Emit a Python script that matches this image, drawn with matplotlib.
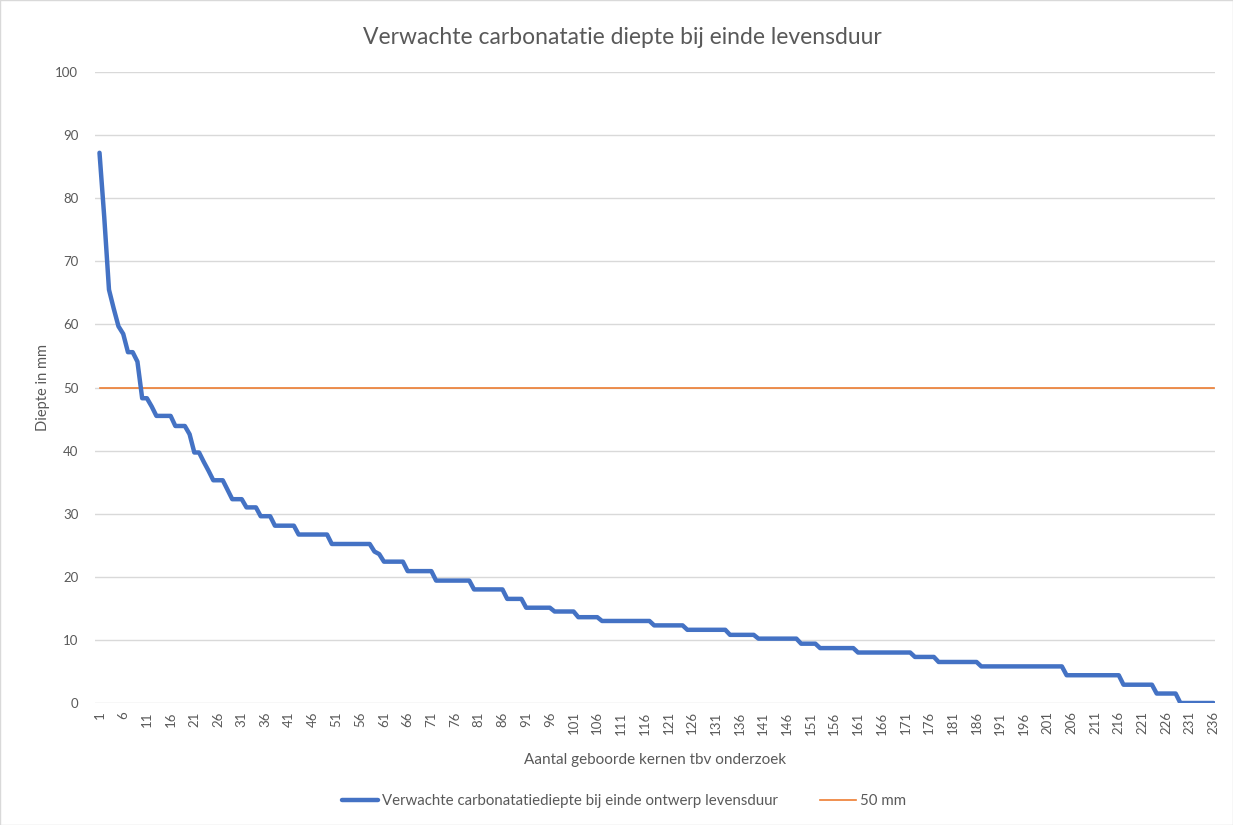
import numpy as np
import matplotlib
matplotlib.use("Agg")
import matplotlib.pyplot as plt
from matplotlib.patches import Rectangle

plt.rcParams['font.family'] = ['Lato', 'DejaVu Sans']

# Depth values (mm), as (level, number of consecutive cores)
depth_levels = [87.2, 77.0, 65.5, 62.5, 59.7, 58.5, 55.6, 54.1, 48.3, 47.0,
                45.5, 43.9, 42.6, 39.7, 38.2, 36.8, 35.3, 33.8, 32.3, 31.0,
                29.6, 28.1, 26.7, 25.2, 24.0, 23.6, 22.4, 20.9, 19.4, 18.0,
                16.5, 15.1, 14.5, 13.6, 13.0, 12.3, 11.6, 10.8, 10.2, 9.4,
                8.7, 8.0, 7.3, 6.5, 5.8, 4.4, 2.9, 1.5, 0.0]
depth_counts = [1, 1, 1, 1, 1, 1, 2, 1, 2, 1,
                4, 3, 1, 2, 1, 1, 3, 1, 3, 3,
                3, 5, 7, 9, 1, 1, 5, 6, 8, 7,
                4, 6, 5, 5, 11, 7, 9, 6, 9, 4,
                8, 12, 5, 9, 18, 12, 7, 5, 8]
depth = np.repeat(depth_levels, depth_counts)
cores = np.arange(1, len(depth) + 1)
limit_value = 50
limit = [limit_value] * len(cores)

tick_values = list(range(1, 237, 5))
tick_labels = [str(v) for v in tick_values]

series_label = "Verwachte carbonatatiediepte bij einde ontwerp levensduur"
limit_label = "50 mm"
title = "Verwachte carbonatatie diepte bij einde levensduur"
xlabel = "Aantal geboorde kernen tbv onderzoek"
ylabel = "Diepte in mm"

W, H = 1233, 825
fig = plt.figure(figsize=(W / 100, H / 100), dpi=100)
fig.patches.append(Rectangle((0, 0), 1, 1, transform=fig.transFigure,
                             fill=False, edgecolor='#d9d9d9', lw=1.0))

ax = fig.add_axes([95 / W, 1 - 703 / H, (1215 - 95) / W, (703 - 72) / H])
grey = '#595959'

ax.plot(cores, depth, color='#4472C4', lw=3.2, solid_joinstyle='round',
        solid_capstyle='round', label=series_label, zorder=3)
ax.plot(cores, limit, color='#ED7D31', lw=1.2, label=limit_label, zorder=2)

ax.set_xlim(0.05, 236.3)
ax.set_ylim(0, 100)
ax.set_yticks(range(0, 101, 10))
ax.set_xticks(tick_values)
ax.set_xticklabels(tick_labels, rotation=90)
ax.tick_params(axis='both', length=0, labelsize=9.5, colors=grey)
ax.tick_params(axis='y', pad=12)
ax.tick_params(axis='x', pad=6)
ax.grid(axis='y', color='#d9d9d9', lw=1.0)
ax.set_axisbelow(True)
for s in ax.spines.values():
    s.set_visible(False)

fig.text(622 / W, 1 - 37 / H, title, fontsize=16.5, color=grey,
         ha='center', va='center')
ax.set_xlabel(xlabel, fontsize=11, color=grey, labelpad=13)
ax.set_ylabel(ylabel, fontsize=10.5, color=grey, labelpad=4)

fig.legend(loc='center', bbox_to_anchor=(624 / W, 1 - 801 / H), ncol=2, frameon=False,
           fontsize=10.8, labelcolor=grey, handlelength=2.4, handletextpad=0.25,
           columnspacing=2.8)

fig.savefig("out.png", dpi=100)
